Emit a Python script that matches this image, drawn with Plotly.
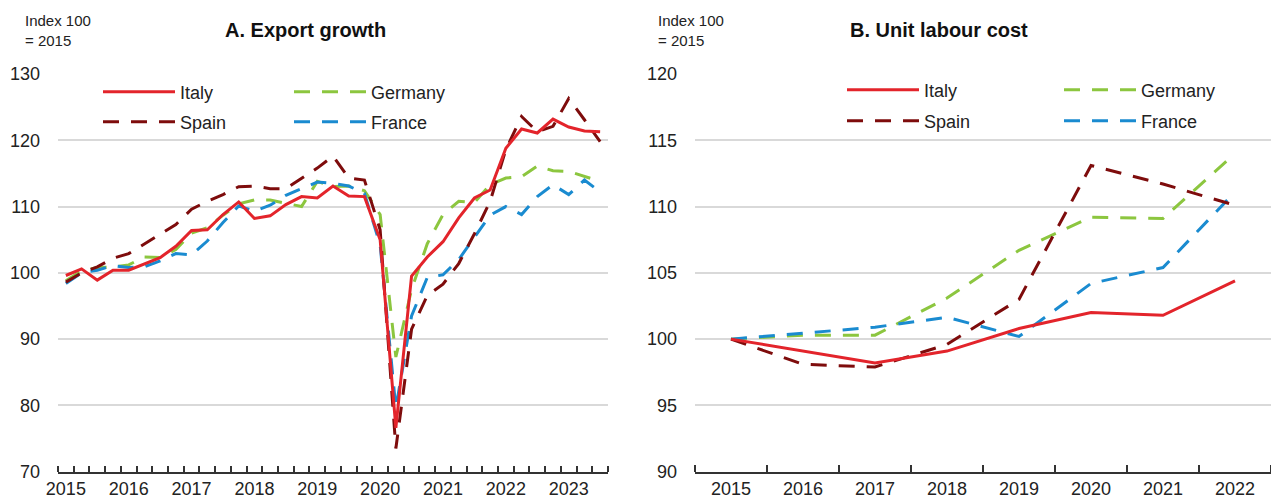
import plotly.graph_objects as go

# ---------------- DATA ----------------
years_a = [2015, 2016, 2017, 2018, 2019, 2020, 2021, 2022, 2023]
quarters_a = [f"{y}Q{q}" for y in years_a for q in (1, 2, 3, 4)][:35]  # 2015Q1..2023Q3

italy_a = [99.6, 100.6, 98.9, 100.4, 100.4, 101.3, 102.3, 104.0, 106.4, 106.5, 108.8, 110.7,
           108.2, 108.6, 110.3, 111.5, 111.3, 113.1, 111.6, 111.5, 105.0, 76.6, 99.5, 102.4,
           104.7, 108.3, 111.3, 112.5, 118.8, 121.7, 121.1, 123.2, 122.0, 121.4, 121.3]
germany_a = [98.8, 100.3, 100.8, 100.9, 101.2, 102.4, 102.3, 103.5, 106.0, 106.8, 108.7, 110.4,
             111.0, 111.0, 110.5, 110.0, 113.8, 113.0, 113.1, 112.4, 108.8, 87.3, 97.5, 104.4,
             108.8, 110.8, 110.6, 113.3, 114.3, 114.5, 116.1, 115.4, 115.3, 114.6, 113.8]
spain_a = [98.6, 100.0, 100.9, 102.2, 102.9, 104.4, 105.9, 107.3, 109.6, 110.8, 111.8, 113.0,
           113.1, 112.7, 112.7, 114.2, 115.8, 117.6, 114.3, 114.0, 106.5, 73.5, 91.5, 96.6,
           98.3, 101.4, 105.9, 110.8, 118.6, 123.6, 121.3, 122.1, 126.3, 123.1, 119.8]
france_a = [98.4, 100.0, 100.4, 101.1, 100.8, 100.9, 101.8, 102.9, 102.7, 104.8, 107.6, 110.1,
            109.3, 110.2, 111.7, 112.7, 113.7, 113.5, 113.1, 112.0, 104.2, 79.6, 93.5, 99.3,
            99.7, 102.0, 105.4, 108.7, 110.0, 108.8, 111.5, 113.3, 111.8, 114.0, 112.2]

years_b = [2015, 2016, 2017, 2018, 2019, 2020, 2021, 2022]
italy_b = [100.0, 99.1, 98.2, 99.1, 100.8, 102.0, 101.8, 104.4]
germany_b = [100.0, 100.3, 100.3, 103.1, 106.7, 109.2, 109.1, 114.0]
spain_b = [100.0, 98.1, 97.9, 99.6, 103.0, 113.1, 111.7, 110.1]
france_b = [100.0, 100.45, 100.9, 101.65, 100.2, 104.2, 105.4, 111.1]

series_names = ["Italy", "Germany", "Spain", "France"]
yticks_a = [70, 80, 90, 100, 110, 120, 130]
yticks_b = [90, 95, 100, 105, 110, 115, 120]

# ---------------- STYLE ----------------
W, H = 1271, 499
FONT = "Liberation Sans Narrow, Arial Narrow, Liberation Sans, Arial, sans-serif"
TXT = "#222222"
GRID = "#d9d9d9"
colors = {"Italy": "#E3242B", "Germany": "#8CC63F", "Spain": "#7E0C0C", "France": "#1A8BD0"}
DASH = "16px,12px"
dashes = {"Italy": "solid", "Germany": DASH, "Spain": DASH, "France": DASH}

def px_x(p):
    return p / W

def px_y(p):
    return 1 - p / H

# quarter positions (numeric) from the category list
xq = [int(q[:4]) + (int(q[-1]) - 1) / 4 for q in quarters_a]

fig = go.Figure()

data_a = {"Italy": italy_a, "Germany": germany_a, "Spain": spain_a, "France": france_a}
data_b = {"Italy": italy_b, "Germany": germany_b, "Spain": spain_b, "France": france_b}
leg_a = {"Italy": "legend", "Germany": "legend", "Spain": "legend2", "France": "legend2"}
leg_b = {"Italy": "legend3", "Germany": "legend3", "Spain": "legend4", "France": "legend4"}

order = ["Italy", "Germany", "Spain", "France"]
draw_order = ["Germany", "France", "Spain", "Italy"]
for name in draw_order:
    fig.add_trace(go.Scatter(
        x=xq, y=data_a[name], name=name, mode="lines",
        line=dict(color=colors[name], width=3, dash=dashes[name]),
        xaxis="x", yaxis="y", legend=leg_a[name],
        legendrank=order.index(name) + 1))
for name in draw_order:
    fig.add_trace(go.Scatter(
        x=years_b, y=data_b[name], name=name, mode="lines",
        line=dict(color=colors[name], width=3, dash=dashes[name]),
        xaxis="x2", yaxis="y2", legend=leg_b[name],
        legendrank=order.index(name) + 1))

tickfont = dict(family=FONT, size=18, color=TXT)

common_x = dict(showgrid=False, showline=True, linecolor="#333333", linewidth=1.5,
                ticks="", tickfont=tickfont, zeroline=False, fixedrange=True,
                automargin=False)
common_y = dict(showgrid=True, gridcolor=GRID, gridwidth=1.5, zeroline=False,
                showline=False, ticks="", tickfont=tickfont, ticklabelstandoff=17,
                automargin=False, fixedrange=True)

fig.update_layout(
    width=W, height=H,
    margin=dict(l=0, r=0, t=0, b=0, pad=0, autoexpand=False),
    paper_bgcolor="white", plot_bgcolor="white",
    font=dict(family=FONT, color=TXT),
    xaxis=dict(domain=[px_x(58), px_x(608)], range=[2014.875, 2023.625],
               tickmode="array", tickvals=years_a, ticktext=[str(y) for y in years_a],
               minor=dict(tickmode="array",
                          tickvals=[2014.875 + 0.25 * k for k in range(36)],
                          ticks="inside", ticklen=6, tickwidth=1.5, tickcolor="#333333",
                          showgrid=False),
               anchor="y", **common_x),
    yaxis=dict(domain=[px_y(471.7), px_y(74)], range=[70, 130],
               tickmode="array", tickvals=yticks_a, anchor="x", **common_y),
    xaxis2=dict(domain=[px_x(695), 1.0], range=[2014.5, 2022.5],
                tickmode="array", tickvals=years_b, ticktext=[str(y) for y in years_b],
                minor=dict(tickmode="array",
                           tickvals=[2014.5 + k for k in range(9)],
                           ticks="inside", ticklen=7, tickwidth=1.5, tickcolor="#333333",
                           showgrid=False),
                anchor="y2", **common_x),
    yaxis2=dict(domain=[px_y(471.7), px_y(74)], range=[90, 120],
                tickmode="array", tickvals=yticks_b, anchor="x2", **common_y),
)

legfont = dict(family=FONT, size=18, color=TXT)
def leg(xpx, ypx, entryw):
    return dict(orientation="h", x=px_x(xpx), y=px_y(ypx), xanchor="left", yanchor="middle",
                bgcolor="rgba(0,0,0,0)", borderwidth=0, font=legfont, itemwidth=72,
                entrywidth=entryw, entrywidthmode="pixels", tracegroupgap=0,
                itemclick=False, itemdoubleclick=False)

fig.update_layout(
    legend=leg(98, 92, 104),
    legend2=leg(98, 122, 104),
    legend3=leg(842, 90, 130),
    legend4=leg(842, 121, 130),
)

annotations = [
    dict(text="<b>A. Export growth</b>", x=px_x(305), y=px_y(30), xref="paper", yref="paper",
         xanchor="center", yanchor="middle", showarrow=False,
         font=dict(family=FONT, size=20, color="#111111")),
    dict(text="<b>B. Unit labour cost</b>", x=px_x(939), y=px_y(30), xref="paper", yref="paper",
         xanchor="center", yanchor="middle", showarrow=False,
         font=dict(family=FONT, size=20, color="#111111")),
    dict(text="Index 100<br>= 2015", x=px_x(23), y=px_y(10), xref="paper", yref="paper",
         xanchor="left", yanchor="top", align="left", showarrow=False,
         font=dict(family=FONT, size=15, color=TXT)),
    dict(text="Index 100<br>= 2015", x=px_x(656), y=px_y(10), xref="paper", yref="paper",
         xanchor="left", yanchor="top", align="left", showarrow=False,
         font=dict(family=FONT, size=15, color=TXT)),
]
fig.update_layout(annotations=annotations)

fig.write_html(
    "out.html",
    config={"displayModeBar": False, "staticPlot": False},
    post_script=("document.documentElement.style.margin='0';"
                 "document.body.style.margin='0';"
                 "document.body.style.overflow='hidden';"
                 "document.documentElement.style.overflow='hidden';"),
)
